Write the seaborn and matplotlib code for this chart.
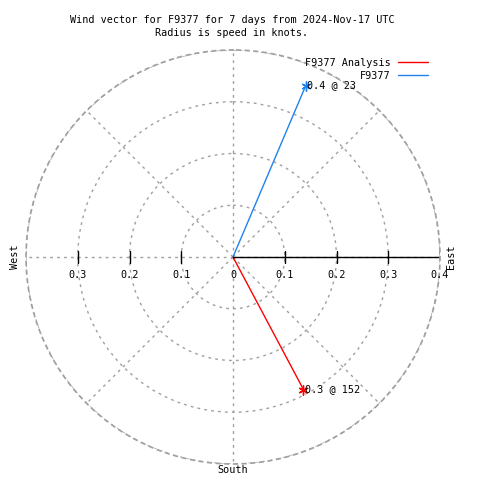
import numpy as np
import pandas as pd
import matplotlib
matplotlib.use('Agg')
import matplotlib.pyplot as plt
import seaborn as sns

# data
series = ['F9377 Analysis', 'F9377']
directions = [152, 23]        # degrees, clockwise from north
speeds = [0.29, 0.36]         # knots
colors = ['#ff0000', '#1e82f0']
rings = [0.1, 0.2, 0.3, 0.4]

sns.set_theme(style='white')
plt.rcParams['font.family'] = ['DejaVu Sans Mono', 'DejaVu Sans']
plt.rcParams['font.size'] = 7.3
plt.rcParams['text.color'] = 'black'

rows = []
for name, d, s in zip(series, directions, speeds):
    rows.append({'series': name, 'theta': np.radians(d), 'r': 0.0})
    rows.append({'series': name, 'theta': np.radians(d), 'r': s})
df = pd.DataFrame(rows)

fig = plt.figure(figsize=(4.8, 4.8), dpi=100)
ax = fig.add_axes([26/480, 16/480, 414/480, 414/480], projection='polar')
ax.set_theta_zero_location('N')
ax.set_theta_direction(-1)

sns.lineplot(data=df, x='theta', y='r', hue='series', palette=dict(zip(series, colors)),
             estimator=None, sort=False, lw=1, ax=ax)

# tips and labels
for name, d, s, c in zip(series, directions, speeds, colors):
    th = np.radians(d)
    ax.plot([th], [s], marker=(6, 2, 0), color=c, ms=7, mew=1, ls='none')
    ax.annotate(f'{s:.1f} @ {d}', xy=(th, s), xytext=(1, 0), textcoords='offset points',
                ha='left', va='center', color='black')

ax.set_ylim(0, 0.4)
ax.set_yticks(rings)
ax.set_yticklabels([])
ax.set_xticks(np.radians(np.arange(0, 360, 45)))
ax.set_xticklabels([])
ax.grid(True, color='#a0a0a0', lw=1, ls=(0, (2, 3)))
ax.spines['polar'].set_color('#a0a0a0')
ax.spines['polar'].set_linestyle((0, (2, 3)))
ax.set_xlabel('')
ax.set_ylabel('')

# solid east axis with ticks
east = np.pi / 2
west = 3 * np.pi / 2
ax.plot([east, east], [0, 0.4], color='black', lw=1)
ax.plot([east] * 4, rings, marker='|', ms=8, mew=1, color='black', ls='none')
ax.plot([west] * 3, rings[:3], marker='|', ms=8, mew=1, color='black', ls='none')

px = 0.72  # points per pixel
for r in [0.0] + rings:
    lab = '0' if r == 0 else f'{r:.1f}'
    ax.annotate(lab, xy=(east, r), xytext=(0, -18*px), textcoords='offset points',
                ha='center', va='center')
for r in rings[:3]:
    ax.annotate(f'{r:.1f}', xy=(west, r), xytext=(0, -18*px), textcoords='offset points',
                ha='center', va='center')

ax.legend(loc='upper right', bbox_to_anchor=(428/480, 1 - 58/480), bbox_transform=fig.transFigure,
          frameon=False, markerfirst=False, handlelength=3.0, labelspacing=0.3,
          handletextpad=0.7, borderpad=0, borderaxespad=0, fontsize=7.3)

fig.text(15/480, 1 - 257/480, 'West', rotation=90, ha='center', va='center')
fig.text(451/480, 1 - 257/480, 'East', rotation=90, ha='center', va='center')
fig.text(233/480, 1 - 470/480, 'South', ha='center', va='center')

fig.text(232/480, 1 - 20/480, 'Wind vector for F9377 for 7 days from 2024-Nov-17 UTC',
         ha='center', va='center')
fig.text(232/480, 1 - 33/480, 'Radius is speed in knots.', ha='center', va='center')

fig.savefig('out.png', dpi=100)
